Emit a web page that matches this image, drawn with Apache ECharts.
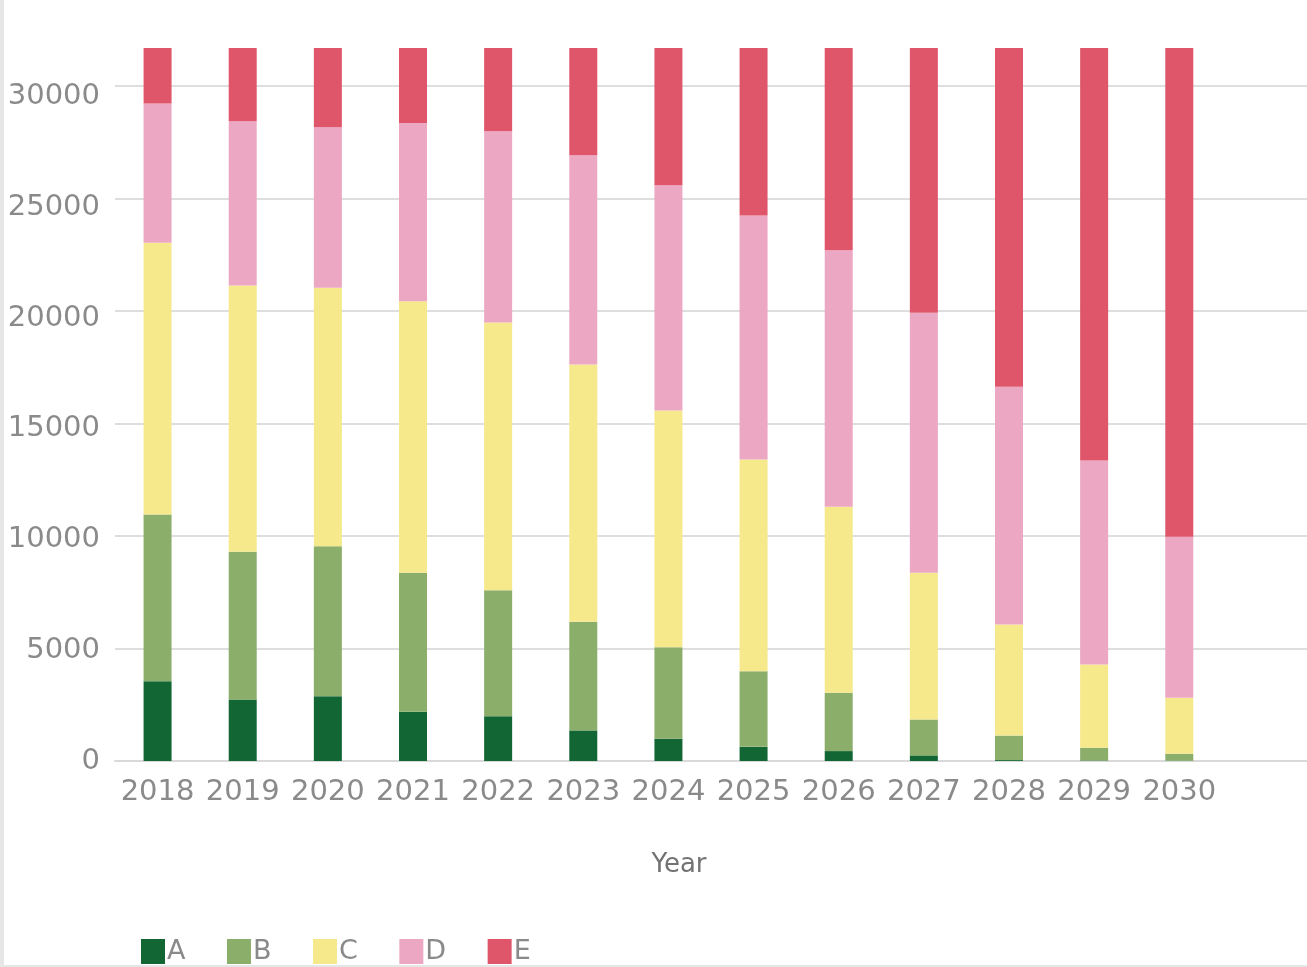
<!DOCTYPE html>
<html>
<head>
<meta charset="utf-8">
<script src="https://cdn.jsdelivr.net/npm/echarts@6/dist/echarts.min.js"></script>
<style>
  html, body { margin: 0; padding: 0; background: #ffffff; }
  #chart { position: absolute; left: 0; top: 0; width: 1307px; height: 967px; }
  .edge { position: absolute; background: #e6e6e6; }
</style>
</head>
<body>
<div id="chart"></div>
<div class="edge" style="left:0;top:0;width:4px;height:967px;"></div>
<div class="edge" style="left:0;top:965px;width:1307px;height:2px;"></div>
<script>
// Years on the category axis
const years = ['2018', '2019', '2020', '2021', '2022', '2023', '2024', '2025', '2026', '2027', '2028', '2029', '2030'];

// Stacked series values per year
const seriesA = [3550, 2730, 2880, 2190, 1990, 1360, 990, 630, 440, 250, 40, 20, 10];
const seriesB = [7410, 6570, 6670, 6180, 5600, 4830, 4070, 3360, 2590, 1600, 1090, 570, 310];
const seriesC = [12080, 11840, 11490, 12070, 11910, 11440, 10520, 9410, 8270, 6520, 4940, 3700, 2490];
const seriesD = [6190, 7300, 7140, 7930, 8500, 9300, 10020, 10850, 11410, 11560, 10570, 9070, 7160];
const seriesE = [2470, 3260, 3520, 3330, 3700, 4770, 6100, 7450, 8990, 11770, 15060, 18340, 21730];

const seriesNames = ['A', 'B', 'C', 'D', 'E'];
const seriesColors = ['#116634', '#8bae6b', '#f6e98b', '#eca7c3', '#df566b'];
const yTop = 31700;
// the tick-label column runs on a slightly stretched scale of its own
const yLabelTop = 32190;

const chart = echarts.init(document.getElementById('chart'), null, { renderer: 'canvas' });

const labelFont = '"DejaVu Sans", Verdana, sans-serif';
// one empty slot after the last year keeps room on the right of the plot
const xCategories = years.concat(['']);

const dataSets = [seriesA, seriesB, seriesC, seriesD, seriesE];

chart.setOption({
  animation: false,
  backgroundColor: '#ffffff',
  textStyle: { fontFamily: labelFont },
  grid: { left: 115, right: 0, top: 48, bottom: 206, containLabel: false },
  legend: {
    data: seriesNames,
    left: 136,
    top: 933,
    icon: 'rect',
    itemWidth: 24,
    itemHeight: 25,
    itemGap: 41.5,
    textStyle: { color: '#8a8a8a', fontSize: 27, fontFamily: labelFont, padding: [0, 0, 0, -3] }
  },
  xAxis: {
    type: 'category',
    data: xCategories,
    name: 'Year',
    nameLocation: 'middle',
    nameGap: 91,
    nameTextStyle: { color: '#737373', fontSize: 26, fontFamily: labelFont, padding: [0, 64, 0, 0] },
    axisLine: { show: true, lineStyle: { color: '#d9d9d9', width: 2 } },
    axisTick: { show: false },
    axisLabel: { color: '#8a8a8a', fontSize: 29, margin: 17, fontFamily: labelFont, interval: 0 }
  },
  yAxis: [
    {
      type: 'value',
      min: 0,
      max: yTop,
      interval: 5000,
      axisLine: { show: false },
      axisTick: { show: false },
      axisLabel: { show: false },
      splitLine: { show: true, showMaxLine: false, lineStyle: { color: '#dedede', width: 2 } }
    },
    {
      type: 'value',
      position: 'left',
      min: 0,
      max: yLabelTop,
      interval: 5000,
      axisLine: { show: false },
      axisTick: { show: false },
      splitLine: { show: false },
      axisLabel: {
        color: '#8a8a8a', fontSize: 29, margin: 15, fontFamily: labelFont,
        showMaxLabel: false,
        formatter: (v) => String(v)
      }
    }
  ],
  series: seriesNames.map((name, i) => ({
    name: name,
    type: 'bar',
    stack: 'total',
    yAxisIndex: 0,
    barWidth: 28,
    itemStyle: { color: seriesColors[i] },
    data: dataSets[i]
  }))
});
</script>
</body>
</html>
